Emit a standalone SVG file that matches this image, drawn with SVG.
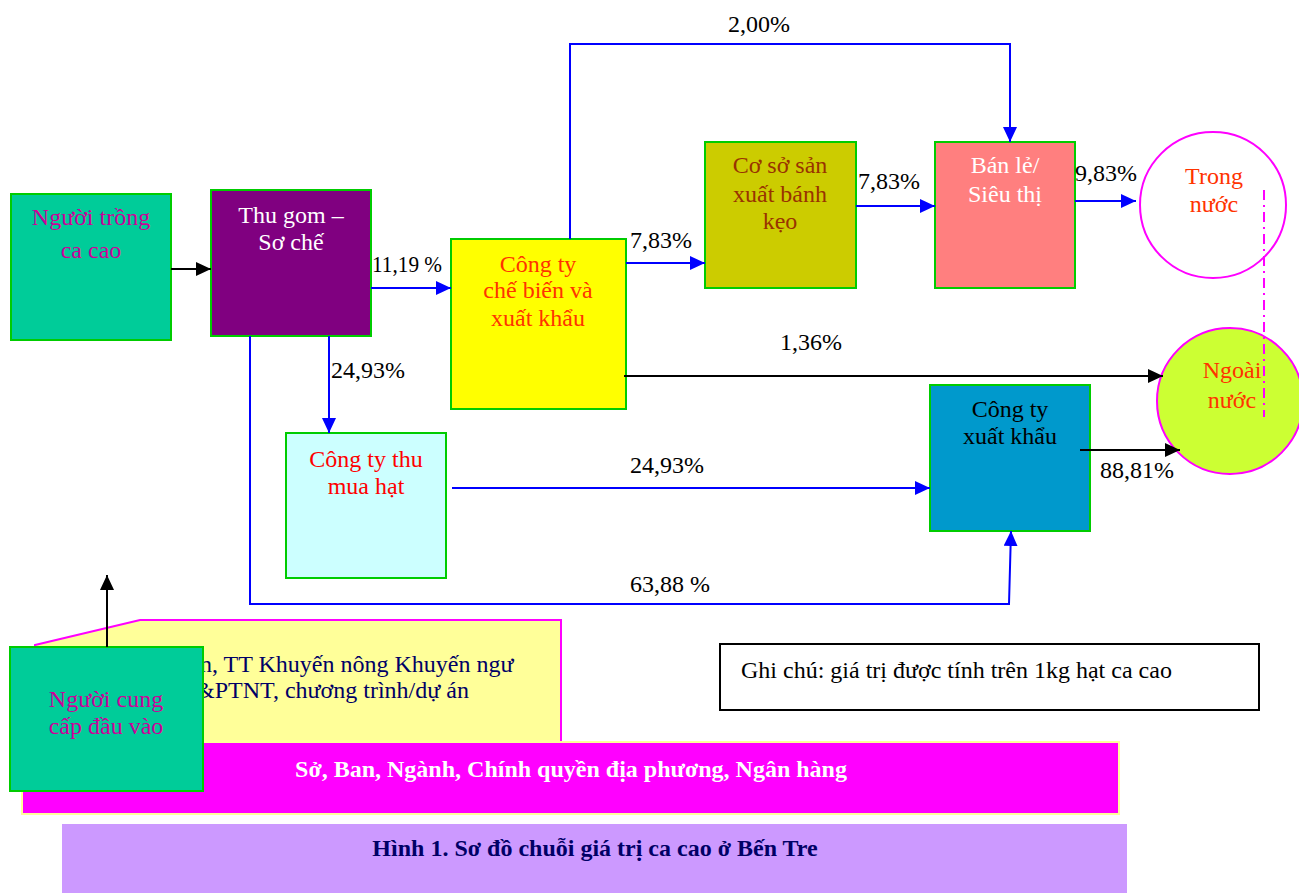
<svg xmlns="http://www.w3.org/2000/svg" width="1299" height="893" viewBox="0 0 1299 893">
<defs>
<marker id="ab" markerUnits="userSpaceOnUse" markerWidth="16" markerHeight="14" refX="15" refY="7" orient="auto"><path d="M0,0 L15,7 L0,14 Z" fill="#0000FF"/></marker>
<marker id="ak" markerUnits="userSpaceOnUse" markerWidth="16" markerHeight="14" refX="15" refY="7" orient="auto"><path d="M0,0 L15,7 L0,14 Z" fill="#000000"/></marker>
<style>
text{font-family:"Liberation Serif","Times New Roman",serif;font-size:24px}
.box{stroke:#00CC00;stroke-width:2}
.c{text-anchor:middle}
.lab{fill:#000}
.blue{fill:none;stroke:#0000FF;stroke-width:2;marker-end:url(#ab)}
.blk{fill:none;stroke:#000;stroke-width:2;marker-end:url(#ak)}
</style>
</defs>
<rect width="1299" height="893" fill="#fff"/>

<g id="support">
<polygon points="35,645 140,620 561,620 561,742 35,742" fill="#FFFF99" stroke="#FF00FF" stroke-width="2"/>
<text x="200" y="672" fill="#000066">n, TT Khuyến nông Khuyến ngư</text>
<text x="196" y="698" fill="#000066">&amp;PTNT, chương trình/dự án</text>
</g>
<g id="agencies">
<rect x="22" y="742" width="1097" height="72" fill="#FF00FF" stroke="#FFFF99" stroke-width="2"/>
<text x="571" y="777" class="c" fill="#fff" font-weight="bold">Sở, Ban, Ngành, Chính quyền địa phương, Ngân hàng</text>
</g>
<g id="caption">
<rect x="62" y="824" width="1065" height="69" fill="#CC99FF"/>
<text x="595" y="856" class="c" fill="#000066" font-weight="bold">Hình 1. Sơ đồ chuỗi giá trị ca cao ở Bến Tre</text>
</g>
<g id="input">
<rect x="10" y="647" width="193" height="144" fill="#00CC99" class="box"/>
<text x="106" y="707" class="c" fill="#CC0099">Người cung</text>
<text x="106" y="734" class="c" fill="#CC0099">cấp đầu vào</text>
</g>
<g id="note">
<rect x="720" y="644" width="539" height="66" fill="#fff" stroke="#000" stroke-width="2"/>
<text x="741" y="678" fill="#000">Ghi chú: giá trị được tính trên 1kg hạt ca cao</text>
</g>

<g id="grower">
<rect x="11" y="194" width="160" height="146" fill="#00CC99" class="box"/>
<text x="91" y="225" class="c" fill="#CC0099">Người trồng</text>
<text x="91" y="258" class="c" fill="#CC0099">ca cao</text>
</g>
<g id="collect">
<rect x="211" y="190" width="160" height="146" fill="#800080" class="box"/>
<text x="291" y="223" class="c" fill="#fff">Thu gom –</text>
<text x="291" y="250" class="c" fill="#fff">Sơ chế</text>
</g>
<g id="processor">
<rect x="451" y="239" width="175" height="170" fill="#FFFF00" class="box"/>
<text x="538" y="272" class="c" fill="#FF3300">Công ty</text>
<text x="538" y="298" class="c" fill="#FF3300">chế biến và</text>
<text x="538" y="326" class="c" fill="#FF3300">xuất khẩu</text>
</g>
<g id="confectionery">
<rect x="705" y="142" width="151" height="146" fill="#CCCC00" class="box"/>
<text x="780" y="173" class="c" fill="#993300">Cơ sở sản</text>
<text x="780" y="202" class="c" fill="#993300">xuất bánh</text>
<text x="780" y="229" class="c" fill="#993300">kẹo</text>
</g>
<g id="retail">
<rect x="935" y="142" width="140" height="146" fill="#FF7F7F" class="box"/>
<text x="1005" y="173" class="c" fill="#fff">Bán lẻ/</text>
<text x="1005" y="202" class="c" fill="#fff">Siêu thị</text>
</g>
<g id="domestic">
<circle cx="1213" cy="205" r="73" fill="#fff" stroke="#FF00FF" stroke-width="2"/>
<text x="1214" y="184" class="c" fill="#FF3300">Trong</text>
<text x="1214" y="212" class="c" fill="#FF3300">nước</text>
</g>
<g id="foreign">
<circle cx="1230" cy="401" r="73" fill="#CCFF33" stroke="#FF00FF" stroke-width="2"/>
<text x="1232" y="378" class="c" fill="#FF3300">Ngoài</text>
<text x="1232" y="408" class="c" fill="#FF3300">nước</text>
</g>
<g id="buyer">
<rect x="286" y="433" width="160" height="145" fill="#CCFFFF" class="box"/>
<text x="366" y="467" class="c" fill="#FF0000">Công ty thu</text>
<text x="366" y="494" class="c" fill="#FF0000">mua hạt</text>
</g>
<g id="exporter">
<rect x="930" y="385" width="160" height="146" fill="#0099CC" class="box"/>
<text x="1010" y="417" class="c" fill="#000">Công ty</text>
<text x="1010" y="444" class="c" fill="#000">xuất khẩu</text>
</g>

<g id="connectors">
<line x1="171" y1="269" x2="211" y2="269" class="blk"/>
<line x1="371" y1="288" x2="451" y2="288" class="blue"/>
<line x1="626" y1="263" x2="705" y2="263" class="blue"/>
<line x1="856" y1="206" x2="935" y2="206" class="blue"/>
<line x1="1075" y1="201" x2="1136" y2="201" class="blue"/>
<polyline points="570,239 570,44 1010,44 1010,142" class="blue"/>
<line x1="624" y1="376" x2="1163" y2="376" class="blk"/>
<line x1="1080" y1="450" x2="1180" y2="450" class="blk"/>
<line x1="329" y1="336" x2="329" y2="433" class="blue"/>
<line x1="452" y1="488" x2="930" y2="488" class="blue"/>
<polyline points="250,336 250,604 1009,604 1011,531" class="blue"/>
<line x1="107" y1="647" x2="107" y2="575" class="blk"/>
<line x1="1264" y1="190" x2="1264" y2="417" stroke="#FF00FF" stroke-width="2" stroke-dasharray="10,5,2,5"/>
<text x="372" y="272" class="lab" textLength="70" lengthAdjust="spacingAndGlyphs">11,19 %</text>
<text x="630" y="248" class="lab">7,83%</text>
<text x="858" y="189" class="lab">7,83%</text>
<text x="1075" y="181" class="lab">9,83%</text>
<text x="728" y="32" class="lab">2,00%</text>
<text x="780" y="350" class="lab">1,36%</text>
<text x="1100" y="478" class="lab">88,81%</text>
<text x="331" y="378" class="lab">24,93%</text>
<text x="630" y="473" class="lab">24,93%</text>
<text x="630" y="592" class="lab">63,88 %</text>
</g>
</svg>
